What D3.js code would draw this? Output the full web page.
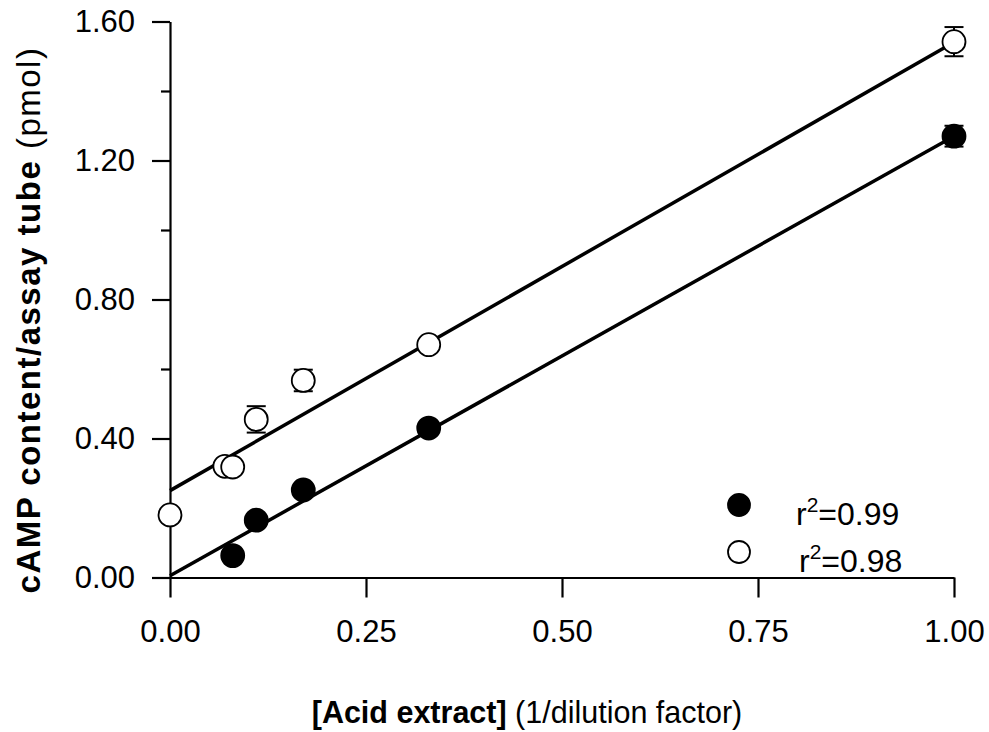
<!DOCTYPE html>
<html>
<head>
<meta charset="utf-8">
<script src="https://cdn.jsdelivr.net/npm/d3@7"></script>
<style>
  body { margin: 0; background: #fff; }
  svg { display: block; }
</style>
</head>
<body>
<div id="chart"></div>
<script>
const width = 989;
const height = 732;

// filled circles (r2 = 0.99)
const xFilled = [0.08, 0.11, 0.17, 0.33, 1.00];
const yFilled = [0.063, 0.165, 0.252, 0.43, 1.27];
const errFilled = [0.01, 0.01, 0.01, 0.01, 0.03];

// open circles (r2 = 0.98)
const xOpen = [0.00, 0.07, 0.08, 0.11, 0.17, 0.33, 1.00];
const yOpen = [0.18, 0.32, 0.318, 0.455, 0.567, 0.67, 1.542];
const errOpen = [0.01, 0.01, 0.01, 0.038, 0.031, 0.01, 0.042];

// regression lines: [intercept, slope]
const fitFilled = [0.005, 1.265];
const fitOpen = [0.25, 1.29];

const xTicks = [0, 0.25, 0.5, 0.75, 1.0];
const yTicks = [0, 0.4, 0.8, 1.2, 1.6];
const yMinor = [0.2, 0.6, 1.0, 1.4];
const legendLabels = ["0.99", "0.98"];

const font = "Liberation Sans, Arial, Helvetica, sans-serif";

const x = d3.scaleLinear().domain([0, 1]).range([170, 954]);
const y = d3.scaleLinear().domain([0, 1.6]).range([577.5, 21.5]);

const svg = d3.create("svg")
    .attr("width", width)
    .attr("height", height)
    .attr("viewBox", `0 0 ${width} ${height}`);

// axes
svg.append("g")
    .attr("transform", `translate(${x(0)},0)`)
    .call(d3.axisLeft(y).tickValues(yTicks).tickSize(18).tickSizeOuter(0).tickPadding(17)
      .tickFormat(d3.format(".2f")));
svg.append("g")
    .attr("transform", `translate(${x(0)},0)`)
    .call(d3.axisLeft(y).tickValues(yMinor).tickSize(9).tickFormat(""))
    .call(g => g.select(".domain").remove());

svg.append("g")
    .attr("transform", `translate(0,${y(0)})`)
    .call(d3.axisBottom(x).tickValues(xTicks).tickSize(20).tickSizeOuter(0).tickPadding(22)
      .tickFormat(d3.format(".2f")));

svg.selectAll(".domain, .tick line")
    .attr("stroke", "#000")
    .attr("stroke-width", 2.2);
svg.selectAll(".tick text")
    .attr("fill", "#000")
    .style("font-family", font)
    .style("font-size", "31px");

// regression lines
[fitFilled, fitOpen].forEach(f => {
  svg.append("line")
      .attr("x1", x(0)).attr("y1", y(f[0]))
      .attr("x2", x(1)).attr("y2", y(f[0] + f[1]))
      .attr("stroke", "#000")
      .attr("stroke-width", 3.5);
});

function drawSeries(xs, ys, errs, fill) {
  const data = xs.map((d, i) => ({x: d, y: ys[i], e: errs[i]}));
  const g = svg.append("g");
  const eb = g.selectAll("g.err").data(data).join("g").attr("class", "err")
      .attr("stroke", "#000").attr("stroke-width", 2);
  eb.append("line")
      .attr("x1", d => x(d.x)).attr("x2", d => x(d.x))
      .attr("y1", d => y(d.y - d.e)).attr("y2", d => y(d.y + d.e));
  eb.append("line")
      .attr("x1", d => x(d.x) - 9.5).attr("x2", d => x(d.x) + 9.5)
      .attr("y1", d => y(d.y + d.e)).attr("y2", d => y(d.y + d.e));
  eb.append("line")
      .attr("x1", d => x(d.x) - 9.5).attr("x2", d => x(d.x) + 9.5)
      .attr("y1", d => y(d.y - d.e)).attr("y2", d => y(d.y - d.e));
  g.selectAll("circle").data(data).join("circle")
      .attr("cx", d => x(d.x))
      .attr("cy", d => y(d.y))
      .attr("r", 11.5)
      .attr("fill", fill)
      .attr("stroke", "#000")
      .attr("stroke-width", 1.8);
}
drawSeries(xOpen, yOpen, errOpen, "#fff");
drawSeries(xFilled, yFilled, errFilled, "#000");

// legend
const legend = svg.append("g").style("font-family", font).style("font-size", "32px");
legendLabels.forEach((lab, i) => {
  const cy = 505 + i * 47;
  legend.append("circle")
      .attr("cx", 739).attr("cy", cy).attr("r", 11)
      .attr("fill", i === 0 ? "#000" : "#fff")
      .attr("stroke", "#000").attr("stroke-width", 1.8);
  const t = legend.append("text")
      .attr("x", 796 + i * 3).attr("y", cy + 20);
  t.append("tspan").text("r");
  t.append("tspan").attr("dy", -13).style("font-size", "21px").text("2");
  t.append("tspan").attr("dy", 13).text("=" + lab);
});

// axis titles
const xt = svg.append("text")
    .attr("x", 527).attr("y", 723)
    .attr("text-anchor", "middle")
    .style("font-family", font).style("font-size", "30.5px");
xt.append("tspan").style("font-weight", "bold").text("[Acid extract]");
xt.append("tspan").text(" (1/dilution factor)");

const yt = svg.append("text")
    .attr("transform", `translate(40,320) rotate(-90)`)
    .attr("text-anchor", "middle")
    .style("font-family", font).style("font-size", "33px")
    .style("letter-spacing", "1.5px");
yt.append("tspan").style("font-weight", "bold").text("cAMP content/assay tube");
yt.append("tspan").text(" (pmol)");

document.getElementById("chart").appendChild(svg.node());
</script>
</body>
</html>
